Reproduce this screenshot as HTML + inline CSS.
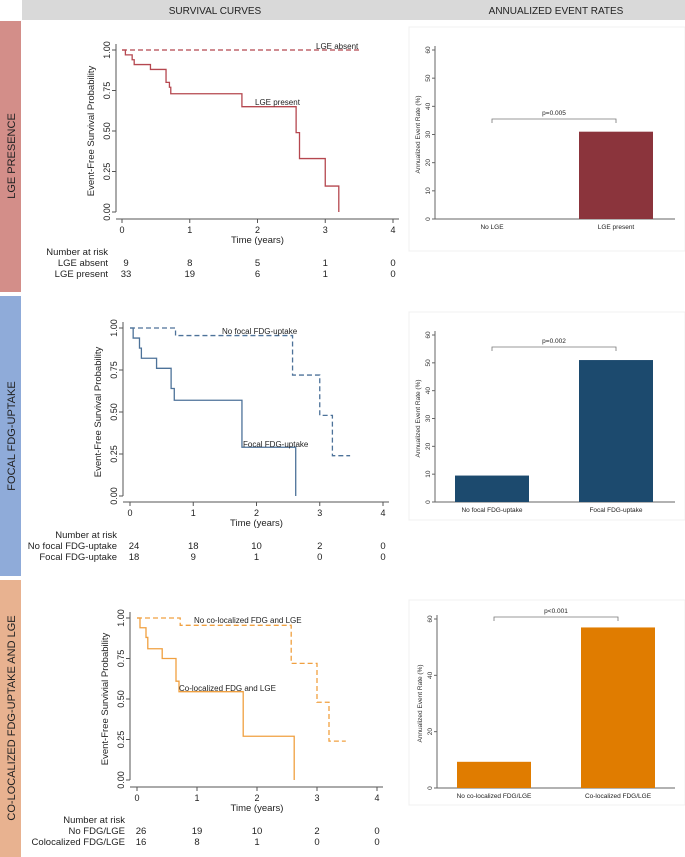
<!DOCTYPE html>
<html><head><meta charset="utf-8"><style>
html,body{margin:0;padding:0;background:#fff}
svg{display:block;font-family:"Liberation Sans",Arial,sans-serif}
</style></head><body>
<svg id="fig" width="685" height="857" viewBox="0 0 685 857" xmlns="http://www.w3.org/2000/svg">
<rect x="22" y="0" width="663" height="20" fill="#d9d9d9"/>
<text x="215" y="14" font-size="10" text-anchor="middle" fill="#222">SURVIVAL CURVES</text>
<text x="556" y="14" font-size="10" text-anchor="middle" fill="#222">ANNUALIZED EVENT RATES</text>
<rect x="0" y="21" width="21" height="271" fill="#d38e89"/>
<rect x="0" y="296" width="21" height="280" fill="#8fabd9"/>
<rect x="0" y="580" width="21" height="277" fill="#e8b290"/>
<text transform="translate(15,156) rotate(-90)" font-size="11" text-anchor="middle" fill="#222">LGE PRESENCE</text>
<text transform="translate(15,436) rotate(-90)" font-size="11" text-anchor="middle" fill="#222">FOCAL FDG-UPTAKE</text>
<text transform="translate(15,718) rotate(-90)" font-size="11" text-anchor="middle" fill="#222">CO-LOCALIZED FDG-UPTAKE AND LGE</text>
<g id="g"></g>
</svg>
<script>
// KM data: [time, survival] step points
const km1PresentT = [0,0.05,0.15,0.18,0.42,0.65,0.70,0.72,1.77,2.57,2.62,3.0,3.2];
const km1PresentS = [1,0.97,0.94,0.91,0.88,0.80,0.77,0.73,0.65,0.49,0.33,0.16,0];
const km1AbsentT = [0,3.5];
const km1AbsentS = [1,1];
const km2FocalT = [0,0.05,0.15,0.18,0.42,0.65,0.70,1.77,2.62];
const km2FocalS = [1,0.94,0.88,0.82,0.76,0.64,0.57,0.29,0];
const km2NoT = [0,0.72,2.57,3.0,3.2,3.48];
const km2NoS = [1,0.955,0.72,0.48,0.24,0.24];
const km3ColocT = [0,0.05,0.15,0.18,0.42,0.65,0.70,1.77,2.62];
const km3ColocS = [1,0.94,0.88,0.81,0.75,0.61,0.545,0.27,0];
const km3NoT = [0,0.72,2.57,3.0,3.2,3.48];
const km3NoS = [1,0.955,0.72,0.48,0.24,0.24];
const xTicks = [0,1,2,3,4];
const yTicks = [0,0.25,0.5,0.75,1];
const yTickLabels = ["0.00","0.25","0.50","0.75","1.00"];
const risk1Names = ["LGE absent","LGE present"];
const risk1 = [[9,8,5,1,0],[33,19,6,1,0]];
const risk2Names = ["No focal FDG-uptake","Focal FDG-uptake"];
const risk2 = [[24,18,10,2,0],[18,9,1,0,0]];
const risk3Names = ["No FDG/LGE","Colocalized FDG/LGE"];
const risk3 = [[26,19,10,2,0],[16,8,1,0,0]];
// Bar data
const bar1Cats = ["No LGE","LGE present"];
const bar1Vals = [0,31];
const bar1Ticks = [0,10,20,30,40,50,60];
const bar2Cats = ["No focal FDG-uptake","Focal FDG-uptake"];
const bar2Vals = [9.5,51];
const bar2Ticks = [0,10,20,30,40,50,60];
const bar3Cats = ["No co-localized FDG/LGE","Co-localized FDG/LGE"];
const bar3Vals = [9.3,57];
const bar3Ticks = [0,20,40,60];
const pLabels = ["p=0.005","p=0.002","p<0.001"];

const NS="http://www.w3.org/2000/svg";
const G=document.getElementById('g');
function mk(tag,attrs,txt){const e=document.createElementNS(NS,tag);for(const k in attrs)e.setAttribute(k,attrs[k]);if(txt!==undefined)e.textContent=txt;G.appendChild(e);return e;}

function km(o){
  const X=t=>o.x0+(o.x4-o.x0)*t/4, Y=s=>o.y0+(o.y1-o.y0)*s;
  let e=mk('line',{x1:o.ax,y1:o.y1-6,x2:o.ax,y2:o.y0,stroke:'#555','stroke-width':1});
  
  e=mk('line',{x1:o.ax,y1:o.axY,x2:o.x4+6,y2:o.axY,stroke:'#555','stroke-width':1});
  
  yTicks.forEach((v,i)=>{
    mk('line',{x1:o.ax-4,y1:Y(v),x2:o.ax,y2:Y(v),stroke:'#555'});
    e=mk('text',{transform:`translate(${o.ax-6},${Y(v)}) rotate(-90)`,'font-size':9,'text-anchor':'middle',fill:'#222'},yTickLabels[i]);
    
  });
  xTicks.forEach(v=>{
    mk('line',{x1:X(v),y1:o.axY,x2:X(v),y2:o.axY+4,stroke:'#555'});
    e=mk('text',{x:X(v),y:o.axY+14,'font-size':9,'text-anchor':'middle',fill:'#222'},v);
    
  });
  e=mk('text',{transform:`translate(${o.ax-22},${(o.y0+o.y1)/2}) rotate(-90)`,'font-size':9.5,'text-anchor':'middle',fill:'#222'},o.ytitle);
  
  e=mk('text',{x:(o.x0+o.x4)/2,y:o.axY+24,'font-size':9.5,'text-anchor':'middle',fill:'#222'},'Time (years)');
  
  o.series.forEach(s=>{
    let d=`M${X(s.t[0])},${Y(s.s[0])}`;
    for(let i=1;i<s.t.length;i++){d+=`H${X(s.t[i])}V${Y(s.s[i])}`;}
    e=mk('path',{d:d,fill:'none',stroke:o.color,'stroke-width':1.3,'stroke-dasharray':s.dash||'none'});
    
    e=mk('text',{x:s.lx,y:s.ly,'font-size':8,fill:'#222'},s.label);
    
  });
  e=mk('text',{x:o.nameX,y:o.axY+36,'font-size':9.5,'text-anchor':'end',fill:'#222'},'Number at risk');
  
  o.riskNames.forEach((n,r)=>{
    const yy=o.axY+47+r*11;
    e=mk('text',{x:o.nameX,y:yy,'font-size':9.5,'text-anchor':'end',fill:'#222'},n);
    
    o.risk[r].forEach((v,i)=>{
      e=mk('text',{x:i==0?X(0)+4:X(i),y:yy,'font-size':9.5,'text-anchor':'middle',fill:'#222'},v);
      
    });
  });
}
function bar(o){
  const max=o.ticks[o.ticks.length-1];
  const Y=v=>o.y0+(o.y60-o.y0)*v/max;
  let e=mk('rect',{x:o.px,y:o.py,width:685-o.px,height:o.ph,fill:'none',stroke:'#f0f0f0'});
  
  e=mk('line',{x1:o.ax,y1:o.y60-4,x2:o.ax,y2:o.y0,stroke:'#666'});
  
  e=mk('line',{x1:o.ax,y1:o.y0,x2:675,y2:o.y0,stroke:'#666'});
  
  o.ticks.forEach(v=>{
    mk('line',{x1:o.ax-3,y1:Y(v),x2:o.ax,y2:Y(v),stroke:'#666'});
    e=mk('text',{transform:`translate(${o.ax-5},${Y(v)}) rotate(-90)`,'font-size':6.5,'text-anchor':'middle',fill:'#333'},v);
    
  });
  e=mk('text',{transform:`translate(${o.ax-15},${(o.y0+o.y60)/2}) rotate(-90)`,'font-size':6.5,'text-anchor':'middle',fill:'#333'},'Annualized Event Rate (%)');
  
  const cx=[o.ax+57,o.ax+181], bw=74;
  o.cats.forEach((c,i)=>{
    e=mk('rect',{x:cx[i]-bw/2,y:Y(o.vals[i]),width:bw,height:o.y0-Y(o.vals[i]),fill:o.color});
    
    e=mk('text',{x:cx[i],y:o.y0+10,'font-size':6.5,'text-anchor':'middle',fill:'#222'},c);
    
  });
  e=mk('path',{d:`M${cx[0]},${o.by+4}V${o.by}H${cx[1]}V${o.by+4}`,fill:'none',stroke:'#777','stroke-width':0.8});
  
  e=mk('text',{x:(cx[0]+cx[1])/2,y:o.by-4,'font-size':6.5,'text-anchor':'middle',fill:'#222'},o.p);
  
}
km({x0:122,x4:393,y1:50,y0:212,ax:116,axY:219,nameX:108,color:'#b5474f',ytitle:'Event-Free Survival Probability',
  riskNames:risk1Names,risk:risk1,series:[
  {t:km1AbsentT,s:km1AbsentS,dash:'5,3',name:'km-lge-absent',label:'LGE absent',lx:316,ly:49},
  {t:km1PresentT,s:km1PresentS,name:'km-lge-present',label:'LGE present',lx:255,ly:105}]});
km({x0:130,x4:383,y1:328,y0:496,ax:123,axY:502,nameX:117,color:'#4d7299',ytitle:'Event-Free Survival Probability',
  riskNames:risk2Names,risk:risk2,series:[
  {t:km2NoT,s:km2NoS,dash:'5,3',name:'km-no-focal-fdg',label:'No focal FDG-uptake',lx:222,ly:334},
  {t:km2FocalT,s:km2FocalS,name:'km-focal-fdg',label:'Focal FDG-uptake',lx:243,ly:447}]});
km({x0:137,x4:377,y1:618,y0:780,ax:130,axY:787,nameX:125,color:'#f0a040',ytitle:'Event-Free Survivial Probability',
  riskNames:risk3Names,risk:risk3,series:[
  {t:km3NoT,s:km3NoS,dash:'5,3',name:'km-no-coloc',label:'No co-localized FDG and LGE',lx:194,ly:623},
  {t:km3ColocT,s:km3ColocS,name:'km-coloc',label:'Co-localized FDG and LGE',lx:179,ly:691}]});
bar({px:409,py:27,ph:224,ax:435,y0:219,y60:50,ticks:bar1Ticks,cats:bar1Cats,vals:bar1Vals,color:'#8b343c',by:119,p:pLabels[0]});
bar({px:409,py:312,ph:208,ax:435,y0:502,y60:335,ticks:bar2Ticks,cats:bar2Cats,vals:bar2Vals,color:'#1c4a6e',by:347,p:pLabels[1]});
bar({px:409,py:600,ph:205,ax:437,y0:788,y60:619,ticks:bar3Ticks,cats:bar3Cats,vals:bar3Vals,color:'#e07c00',by:617,p:pLabels[2]});
</script>
</body></html>
